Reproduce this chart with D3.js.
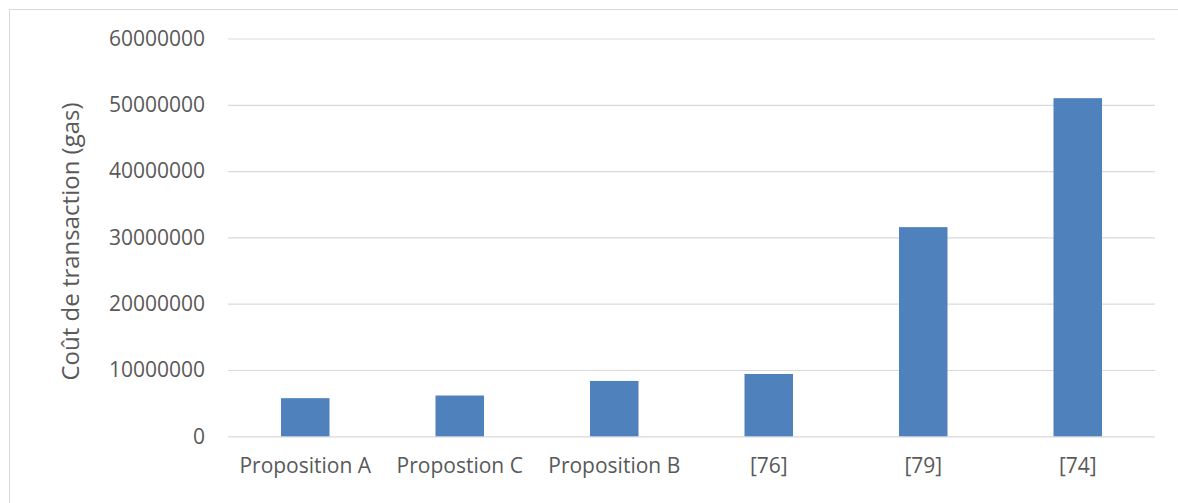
<!DOCTYPE html>
<html>
<head>
<meta charset="utf-8">
<script src="https://cdn.jsdelivr.net/npm/d3@7"></script>
<style>
  html, body { margin: 0; padding: 0; background: #fff; }
  svg { display: block; }
  text { font-family: "Open Sans", sans-serif; fill: #595959; }
</style>
</head>
<body>
<svg id="chart" width="1178" height="503"></svg>
<script>
// Transaction cost per approach (gas)
const categories = ["Proposition A", "Propostion C", "Proposition B", "[76]", "[79]", "[74]"];
const costs = [5750000, 6150000, 8350000, 9400000, 31550000, 51000000];
const yTicks = [0, 10000000, 20000000, 30000000, 40000000, 50000000, 60000000];
const yTitle = "Coût de transaction (gas)";

const W = 1178, H = 503;
const plot = { left: 228, right: 1155, top: 38.5, bottom: 436.3 };

const svg = d3.select("#chart");

// chart area frame
svg.append("rect")
  .attr("x", 9.5).attr("y", 9.5)
  .attr("width", W + 10).attr("height", H + 10)
  .attr("fill", "none").attr("stroke", "#d9d9d9").attr("stroke-width", 1);

const x = d3.scaleBand()
  .domain(categories)
  .range([plot.left, plot.right])
  .paddingInner(0.686)
  .paddingOuter(0.343);

const y = d3.scaleLinear()
  .domain([0, 60000000])
  .range([plot.bottom, plot.top]);

// horizontal gridlines with value labels
const yAxis = d3.axisLeft(y)
  .tickValues(yTicks)
  .tickFormat(d3.format("d"))
  .tickSize(-(plot.right - plot.left))
  .tickPadding(23);

const gy = svg.append("g")
  .attr("transform", `translate(${plot.left},0)`)
  .call(yAxis);
gy.select(".domain").remove();
gy.selectAll(".tick line").attr("stroke", "#d9d9d9").attr("stroke-width", 1.2);
gy.selectAll(".tick text")
  .attr("font-size", 21)
  .attr("fill", "#595959")
  .style("font-family", "'Open Sans', sans-serif");

// bars
svg.append("g").selectAll("rect")
  .data(categories.map((c, i) => ({ c, v: costs[i] })))
  .join("rect")
  .attr("x", d => x(d.c))
  .attr("y", d => y(d.v))
  .attr("width", x.bandwidth())
  .attr("height", d => y(0) - y(d.v))
  .attr("fill", "#4f81bd");

// category labels
const xAxis = d3.axisBottom(x).tickSize(0).tickPadding(22);
const gx = svg.append("g")
  .attr("transform", `translate(0,${plot.bottom})`)
  .call(xAxis);
gx.select(".domain").remove();
gx.selectAll(".tick text")
  .attr("font-size", 21)
  .attr("fill", "#595959")
  .style("font-family", "'Open Sans', sans-serif");

// value axis title
svg.append("text")
  .attr("transform", `translate(79,${(103 + 380) / 2}) rotate(-90)`)
  .attr("text-anchor", "middle")
  .attr("font-size", 24)
  .text(yTitle);
</script>
</body>
</html>
